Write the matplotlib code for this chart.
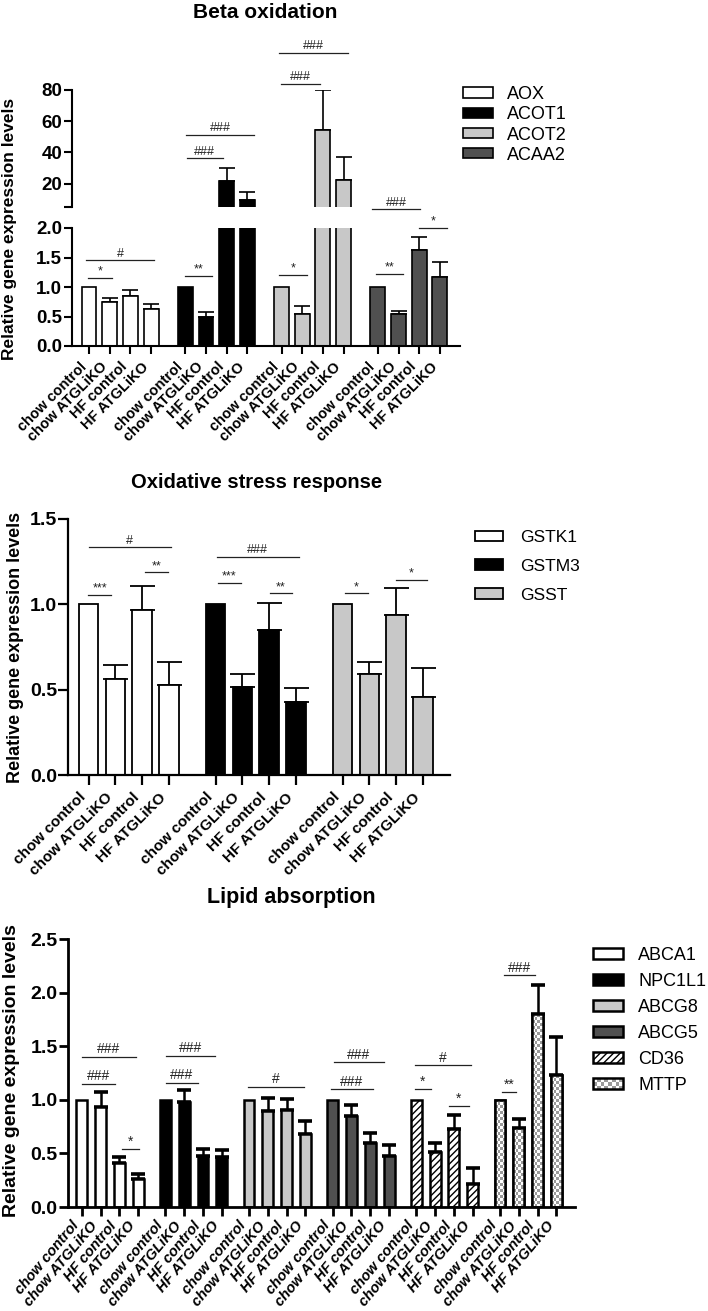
import matplotlib.pyplot as plt
import numpy as np
from matplotlib.patches import Patch, Rectangle
from matplotlib.legend_handler import HandlerBase
from matplotlib.ticker import FormatStrFormatter

plt.rcParams['font.family'] = ['Liberation Sans', 'DejaVu Sans']
plt.rcParams['hatch.linewidth'] = 1.0

conds = ['chow control', 'chow ATGLiKO', 'HF control', 'HF ATGLiKO']

# --- Beta oxidation
beta_genes = ['AOX', 'ACOT1', 'ACOT2', 'ACAA2']
beta_mean = [[1.0, 0.745, 0.855, 0.63],
             [1.0, 0.50, 21.5, 9.6],
             [1.0, 0.54, 54.5, 22.0],
             [1.0, 0.54, 1.63, 1.17]]
beta_err = [[0, 0.065, 0.10, 0.08],
            [0, 0.07, 8.5, 4.8],
            [0, 0.13, 25.5, 15.2],
            [0, 0.05, 0.22, 0.26]]
# (x from, x to, y, text), x in bar units
beta_sig_low = [(-0.05, 1.1, 1.16, '*'), (-0.15, 3.15, 1.45, '#'),
                (4.64, 5.94, 1.18, '**'), (9.18, 10.53, 1.20, '*'),
                (13.86, 15.15, 1.22, '**'), (13.66, 16.0, 2.32, '###'),
                (15.94, 17.28, 2.0, '*')]
beta_sig_up = [(4.73, 6.47, 36.2, '###'), (4.69, 7.97, 51.3, '###'),
               (9.28, 11.16, 84, '###'), (9.18, 12.5, 104, '###')]

# --- Oxidative stress response
ox_genes = ['GSTK1', 'GSTM3', 'GSST']
ox_mean = [[1.0, 0.565, 0.965, 0.525],
           [1.0, 0.515, 0.85, 0.43],
           [1.0, 0.59, 0.94, 0.455]]
ox_err = [[0, 0.08, 0.14, 0.135],
          [0, 0.075, 0.155, 0.08],
          [0, 0.07, 0.155, 0.17]]
ox_sig = [(-0.02, 0.84, 1.055, '***'), (2.10, 2.96, 1.187, '**'),
          (0.01, 3.07, 1.335, '#'), (4.83, 5.69, 1.126, '***'),
          (6.78, 7.59, 1.064, '**'), (4.79, 7.85, 1.278, '###'),
          (9.57, 10.43, 1.064, '*'), (11.47, 12.63, 1.143, '*')]

# --- Lipid absorption
lip_genes = ['ABCA1', 'NPC1L1', 'ABCG8', 'ABCG5', 'CD36', 'MTTP']
lip_mean = [[1.0, 0.93, 0.41, 0.26],
            [1.0, 0.975, 0.48, 0.465],
            [1.0, 0.895, 0.905, 0.68],
            [1.0, 0.845, 0.60, 0.48],
            [1.0, 0.51, 0.73, 0.215],
            [1.0, 0.74, 1.80, 1.23]]
lip_err = [[0, 0.14, 0.055, 0.045],
           [0, 0.115, 0.06, 0.065],
           [0, 0.12, 0.10, 0.12],
           [0, 0.11, 0.09, 0.10],
           [0, 0.085, 0.13, 0.15],
           [0, 0.08, 0.27, 0.355]]
lip_sig = [(0, 1.77, 1.15, '###'), (0, 2.89, 1.40, '###'), (2.13, 3.05, 0.54, '*'),
           (4.48, 6.19, 1.16, '###'), (4.48, 7.09, 1.41, '###'),
           (8.85, 11.83, 1.12, '#'), (13.24, 15.51, 1.10, '###'),
           (13.42, 16.08, 1.35, '###'), (17.73, 20.69, 1.32, '#'),
           (17.73, 18.56, 1.10, '*'), (19.54, 20.6, 0.94, '*'),
           (22.35, 23.1, 1.07, '**'), (22.44, 24.09, 2.16, '###')]

W, H = 708, 1311
fig = plt.figure(figsize=(W / 100, H / 100), dpi=100)


def box(l, t, r, b):
    return [l / W, 1 - b / H, (r - l) / W, (b - t) / H]


def draw_bars(ax, means, errs, faces, gap, width, lw, elw, capsize, capthick, hatches=None):
    handles = []
    for g, (m, e) in enumerate(zip(means, errs)):
        x = np.arange(4) + g * gap
        m = np.array(m, float)
        e = np.array(e, float)
        bars = ax.bar(x, m, width, color=faces[g], edgecolor='black', linewidth=lw,
                      hatch=hatches[g] if hatches else None, zorder=2)
        k = e > 0
        ax.errorbar(x[k], m[k], yerr=[np.zeros(k.sum()), e[k]], fmt='none', ecolor='black',
                    elinewidth=elw, capsize=capsize, capthick=capthick, zorder=1.9)
        handles.append(bars)
    return handles


def draw_sig(ax, sig, fs, lw=0.9):
    for x0, x1, y, t in sig:
        ax.plot([x0, x1], [y, y], color='#222222', lw=lw, clip_on=False, zorder=3)
        ax.annotate(t, ((x0 + x1) / 2, y), xytext=(0, 2.5), textcoords='offset points',
                    ha='center', va='baseline', fontsize=fs, color='#222222',
                    annotation_clip=False)


def style_axis(ax, lw, ticklen, fs, xpad=4):
    for s in ['top', 'right']:
        ax.spines[s].set_visible(False)
    for s in ['left', 'bottom']:
        ax.spines[s].set_linewidth(lw)
    ax.tick_params(axis='y', width=lw, length=ticklen, pad=1)
    ax.tick_params(axis='x', width=lw, length=ticklen, pad=xpad)
    for lab in ax.get_yticklabels():
        lab.set_fontweight('bold')
        lab.set_fontsize(fs)


def set_xlabels(ax, n_groups, gap, fs, rot, style='normal'):
    pos = [g * gap + i for g in range(n_groups) for i in range(4)]
    ax.set_xticks(pos)
    ax.set_xticklabels(conds * n_groups, rotation=rot, ha='right', fontweight='bold',
                       fontsize=fs, style=style)


ylab = 'Relative gene expression levels'

# ================= panel 1 =================
gap1 = 4.65
xl1 = (-0.82, 17.92)
faces1 = ['white', 'black', '#c8c8c8', '#505050']
ax1 = fig.add_axes(box(72, 228, 460, 346))
ax1u = fig.add_axes(box(72, 90, 460, 207))
ax1u.patch.set_visible(False)
h1 = draw_bars(ax1, beta_mean, beta_err, faces1, gap1, 0.72, 1.2, 1.2, 6, 1.2)
draw_bars(ax1u, beta_mean, beta_err, faces1, gap1, 0.72, 1.2, 1.2, 6, 1.2)
draw_sig(ax1, beta_sig_low, 9)
draw_sig(ax1u, beta_sig_up, 9)
ax1.set_xlim(xl1)
ax1.set_ylim(0, 2.0)
ax1.set_yticks([0, 0.5, 1.0, 1.5, 2.0])
ax1.yaxis.set_major_formatter(FormatStrFormatter('%.1f'))
set_xlabels(ax1, 4, gap1, 10.5, 45)
style_axis(ax1, 1.5, 6, 13.5)
ax1u.set_xlim(xl1)
ax1u.set_ylim(5, 80)
ax1u.set_yticks([5, 20, 40, 60, 80])
ax1u.set_yticklabels(['', '20', '40', '60', '80'])
ax1u.set_xticks([])
style_axis(ax1u, 1.5, 6, 13.5)
ax1u.spines['bottom'].set_visible(False)
fig.text(265 / W, 1 - 12 / H, 'Beta oxidation', ha='center', va='center',
         fontsize=15, weight='bold')
fig.text(10 / W, 1 - 229 / H, ylab, rotation=90, ha='center', va='center',
         fontsize=12.5, weight='bold')
fig.legend([h[0] for h in h1], beta_genes, loc='upper left',
           bbox_to_anchor=(463 / W, 1 - 86 / H), frameon=False, borderpad=0,
           borderaxespad=0, fontsize=13, handlelength=1.65, handleheight=0.5,
           handletextpad=0.8, labelspacing=0.18)

# ================= panel 2 =================
gap2 = 4.74
faces2 = ['white', 'black', '#c8c8c8']
ax2 = fig.add_axes(box(68, 519, 450, 775))
h2 = draw_bars(ax2, ox_mean, ox_err, faces2, gap2, 0.73, 1.3, 1.3, 9, 1.3)
draw_sig(ax2, ox_sig, 9)
ax2.set_xlim(-0.77, 13.49)
ax2.set_ylim(0, 1.5)
ax2.set_yticks([0, 0.5, 1.0, 1.5])
ax2.yaxis.set_major_formatter(FormatStrFormatter('%.1f'))
set_xlabels(ax2, 3, gap2, 11, 45)
style_axis(ax2, 1.6, 7, 14)
fig.text(257 / W, 1 - 483 / H, 'Oxidative stress response', ha='center', va='center',
         fontsize=14.5, weight='bold')
fig.text(16 / W, 1 - 647 / H, ylab, rotation=90, ha='center', va='center',
         fontsize=13, weight='bold')
fig.legend([h[0] for h in h2], ox_genes, loc='upper left',
           bbox_to_anchor=(475 / W, 1 - 530 / H), frameon=False, borderpad=0,
           borderaxespad=0, fontsize=12.5, handlelength=1.6, handleheight=0.57,
           handletextpad=1.0, labelspacing=0.8)

# ================= panel 3 =================
gap3 = 4.45
w3 = 0.58
faces3 = ['white', 'black', '#c8c8c8', '#505050', 'white', 'white']
hatch3 = [None, None, None, None, '/////', None]
ax3 = fig.add_axes(box(68, 939, 575, 1207))
h3 = draw_bars(ax3, lip_mean, lip_err, faces3, gap3, w3, 1.8, 1.8, 5, 2.6, hatch3)
xl3 = (-0.73, 26.24)
ax3.set_xlim(xl3)
ax3.set_ylim(0, 2.5)

# checkered fill for MTTP
p3 = ax3.get_position()
ppx = p3.width * W / (xl3[1] - xl3[0])
ppy = p3.height * H / 2.5
checker_cmap = plt.matplotlib.colors.ListedColormap(['white', '#9a9a9a'])
for bar in h3[5]:
    x0, bw, bh = bar.get_x(), bar.get_width(), bar.get_height()
    nc = max(2, int(round(bw * ppx / 3.0)))
    nr = max(2, int(round(bh * ppy / 3.0)))
    cells = np.indices((nr, nc)).sum(axis=0) % 2
    im = ax3.imshow(cells, extent=(x0, x0 + bw, 0, bh), origin='lower', aspect='auto',
                    interpolation='nearest', cmap=checker_cmap, zorder=2.05)
    im.set_clip_path(bar)
    ax3.bar(bar.get_x() + bw / 2, bh, bw, color='none', edgecolor='black', linewidth=1.8,
            zorder=2.1)

draw_sig(ax3, lip_sig, 10)
ax3.set_xlim(xl3)
ax3.set_ylim(0, 2.5)
ax3.set_yticks([0, 0.5, 1.0, 1.5, 2.0, 2.5])
ax3.yaxis.set_major_formatter(FormatStrFormatter('%.1f'))
set_xlabels(ax3, 6, gap3, 10.5, 50, style='italic')
style_axis(ax3, 2.0, 6.5, 14, xpad=2)
fig.text(291 / W, 1 - 898 / H, 'Lipid absorption', ha='center', va='center',
         fontsize=15.5, weight='bold')
fig.text(12 / W, 1 - 1071 / H, ylab, rotation=90, ha='center', va='center',
         fontsize=14, weight='bold')


class CheckerHandler(HandlerBase):
    def create_artists(self, legend, orig_handle, xdescent, ydescent, width, height,
                       fontsize, trans):
        arts = [Rectangle((-xdescent, -ydescent), width, height, facecolor='white',
                          edgecolor='none', transform=trans)]
        n, m = 8, 3
        cw, ch = width / n, height / m
        for i in range(n):
            for j in range(m):
                if (i + j) % 2:
                    arts.append(Rectangle((-xdescent + i * cw, -ydescent + j * ch), cw, ch,
                                          facecolor='#9a9a9a', edgecolor='none',
                                          transform=trans))
        arts.append(Rectangle((-xdescent, -ydescent), width, height, facecolor='none',
                              edgecolor='black', lw=1.8, transform=trans))
        return arts


mttp_proxy = Patch(facecolor='white', edgecolor='black')
handles3 = [h[0] for h in h3[:5]] + [mttp_proxy]
fig.legend(handles3, lip_genes, loc='upper left', bbox_to_anchor=(593 / W, 1 - 947 / H),
           frameon=False, borderpad=0, borderaxespad=0, fontsize=13, handlelength=1.67,
           handleheight=0.55, handletextpad=0.83, labelspacing=0.5,
           handler_map={mttp_proxy: CheckerHandler()})

fig.savefig('out.png', dpi=100)
